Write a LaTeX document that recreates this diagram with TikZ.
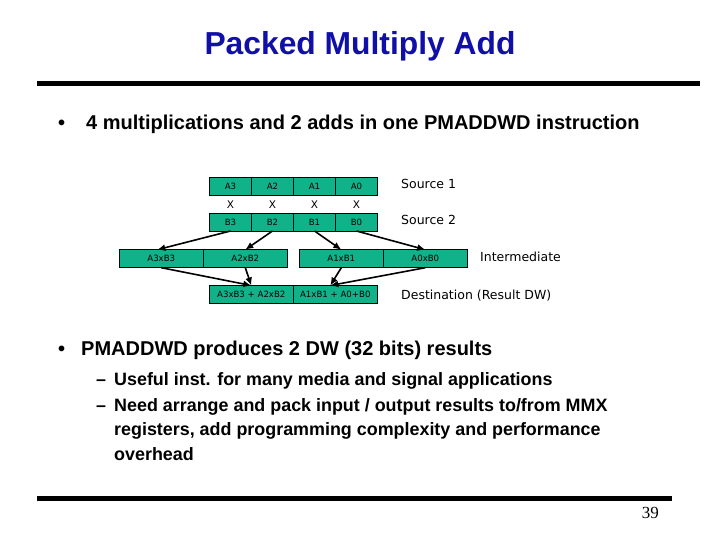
\documentclass[tikz,border=0pt]{standalone}
\usepackage{fontspec}
\setmainfont{Liberation Sans}
\newfontfamily\cellfont{DejaVu Sans}
\newfontfamily\pagefont{Liberation Serif}
\usepackage{xcolor}
\usepackage{tikz}
\usetikzlibrary{positioning, arrows.meta, calc}

\definecolor{pmteal}{RGB}{16,178,138}
\definecolor{pmblue}{RGB}{16,16,168}

\begin{document}
\begin{tikzpicture}[
  x=1pt, y=-1pt,
  node distance=0pt,
  cell/.style={rectangle, draw, line width=0.8pt, fill=pmteal, minimum width=42,
               minimum height=18, inner sep=0pt, outer sep=0pt,
               font=\cellfont\fontsize{8.6}{9}\selectfont},
  wide/.style={cell, minimum width=84},
  lbl/.style={anchor=base west, inner sep=0pt, font=\cellfont\fontsize{12.5}{14}\selectfont},
  txt/.style={anchor=base west, inner sep=0pt, font=\bfseries\fontsize{20}{24}\selectfont},
  sub/.style={anchor=base west, inner sep=0pt, font=\bfseries\fontsize{17.9}{24.5}\selectfont},
  arr/.style={-{Latex[length=8pt, width=7pt]}, line width=1.6pt},
  rule/.style={line width=5pt}
]
\useasboundingbox (0,0) rectangle (720,540);
% ── Title ───────────────────────────────────────
\node[inner sep=0pt, anchor=base, text=pmblue, font=\bfseries\fontsize{31.8}{36}\selectfont]
  (title) at (360,55) {Packed Multiply Add};
\coordinate (r1l) at (37,84);
\coordinate (r1r) at (700,84);
\draw[rule] (r1l) -- (r1r);
\node[txt] (dot1) at (58,130) {•};
\node[txt] (t1) at (86,130) {4 multiplications and 2 adds in one PMADDWD instruction};
% ── Sources ─────────────────────────────────────
\node[cell] (a3) at (230.5,186.5) {A3};
\node[cell, right=of a3] (a2) {A2};
\node[cell, right=of a2] (a1) {A1};
\node[cell, right=of a1] (a0) {A0};
\node[cell, below=17.5pt of a3] (b3) {B3};
\node[cell, right=of b3] (b2) {B2};
\node[cell, right=of b2] (b1) {B1};
\node[cell, right=of b1] (b0) {B0};
\foreach \c in {3,2,1,0}
  \node[font=\cellfont\fontsize{10.5}{12}\selectfont] (x\c) at ($(a\c)!0.5!(b\c)$) {X};
\node[lbl] (s1) at (401,189) {Source 1};
\node[lbl] (s2) at (401,225) {Source 2};
% ── Intermediate ────────────────────────────────
\node[wide] (m3) at (161.3,258.7) {A3xB3};
\node[wide, right=of m3] (m2) {A2xB2};
\node[wide] (m1) at (341.3,258.7) {A1xB1};
\node[wide, right=of m1] (m0) {A0xB0};
\node[lbl] (im) at (480,261) {Intermediate};
\draw[arr] (b3.south) -- ([xshift=-4pt]m3.north);
\draw[arr] (b2.south) -- (m2.north);
\draw[arr] (b1.south) -- (m1.north);
\draw[arr] (b0.south) -- (m0.north);
% ── Destination ─────────────────────────────────
\node[wide] (d1) at (251.3,294.5) {A3xB3 + A2xB2};
\node[wide, right=of d1] (d0) {A1xB1 + A0+B0};
\node[lbl] (dst) at (401,299) {Destination (Result DW)};
\draw[arr] (m3.south) -- (d1.north);
\draw[arr] (m2.south) -- (d1.north);
\draw[arr] (m1.south) -- ([xshift=-5pt]d0.north);
\draw[arr] (m0.south) -- ([xshift=-5pt]d0.north);
% ── Notes ───────────────────────────────────────
\node[txt] (dot2) at (58,355) {•};
\node[txt] (t2) at (81,355) {PMADDWD produces 2 DW (32 bits) results};
\node[sub] (dash1) at (96,385) {–};
\node[sub] (t3) at (114,385) {Useful inst. for many media and signal applications};
\node[sub] (dash2) at (96,411) {–};
% base of a multi-line node sits on its last line
\node[sub, align=left] (t4) at (114,460)
  {Need arrange and pack input / output results to/from MMX\\
   registers, add programming complexity and performance\\
   overhead};
% ── Footer ──────────────────────────────────────
\coordinate (r2l) at (37,498);
\coordinate (r2r) at (672,498);
\draw[rule] (r2l) -- (r2r);
\node[anchor=base east, inner sep=0pt, font=\pagefont\fontsize{17}{19}\selectfont] (pg) at (659,518) {39};
\end{tikzpicture}
\end{document}
